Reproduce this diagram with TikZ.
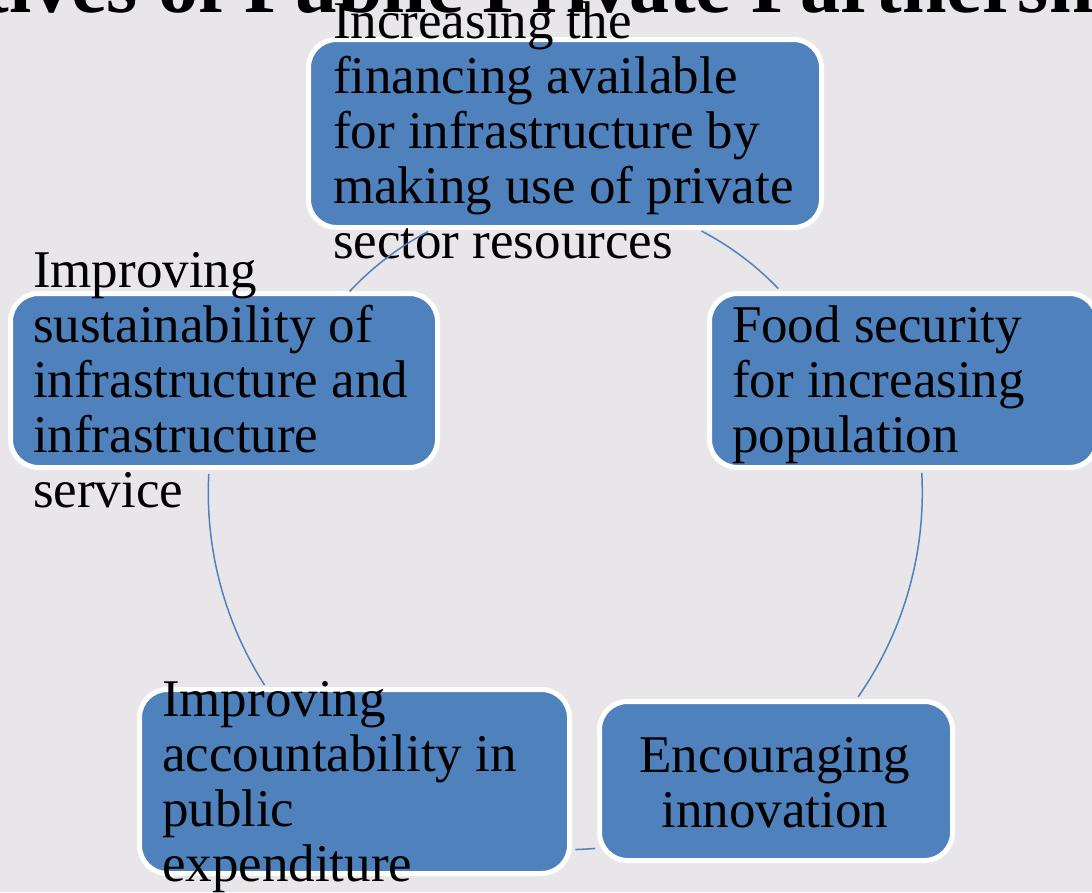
\documentclass[tikz,border=0pt]{standalone}
\usepackage{fontspec}
\usepackage{graphicx}
\setmainfont{Liberation Serif}
\definecolor{pagebg}{HTML}{E8E6E9}
\definecolor{boxblue}{HTML}{4F81BD}
\begin{document}
\begin{tikzpicture}[x=1pt,y=-1pt,
  stagebox/.style={draw=white,line width=5pt,fill=boxblue,rounded corners=28pt,inner sep=0pt,outer sep=0pt},
  stagetext/.style={anchor=base west,inner sep=0pt,outer sep=0pt,text=black,font=\fontsize{53}{55}\selectfont},
  ring/.style={draw=boxblue,line width=1.5pt}]
\useasboundingbox[fill=pagebg] (0,0) rectangle (1092,892);
\node[anchor=base west,inner sep=0pt,font=\bfseries\fontsize{80}{80}\selectfont] (title) at (-222,12) {Objectives of Public Private Partnership};
% boxes
\node[stagebox,minimum width=513pt,minimum height=188pt] (b1) at (565,133.5) {};
\node[stagebox,minimum width=388pt,minimum height=174pt] (b2) at (903.5,380.5) {};
\node[stagebox,minimum width=427pt,minimum height=174pt] (b3) at (224,380.5) {};
\node[stagebox,minimum width=430pt,minimum height=184pt] (b4) at (354.5,781.5) {};
\node[stagebox,minimum width=353pt,minimum height=159pt] (b5) at (776,781) {};
% texts
\node[stagetext] (t1) at (333,38) {\parbox[t]{520pt}{\raggedright Increasing the\\financing available\\for infrastructure by\\making use of private\\sector resources}};
\node[stagetext] (t2) at (732,342) {\parbox[t]{380pt}{\raggedright Food security\\for increasing\\population}};
\node[stagetext] (t3) at (33,287) {\parbox[t]{420pt}{\raggedright Improving\\sustainability of\\infrastructure and\\infrastructure\\service}};
\node[stagetext] (t4) at (162,716) {\parbox[t]{420pt}{\raggedright Improving\\accountability in\\public\\expenditure}};
\node[stagetext,anchor=base] (t5) at (775,772) {\parbox[t]{320pt}{\centering Encouraging\\innovation}};
% connectors on the cycle
\coordinate (c) at (565.3,492.7);
\draw[ring] (c) ++(-62.5:295) arc[start angle=-62.5,end angle=-43.8,radius=295];
\draw[ring] (c) ++(-3.2:357) arc[start angle=-3.2,end angle=34.9,radius=357];
\draw[ring] (c) ++(85.2:357) arc[start angle=85.2,end angle=88.4,radius=357];
\draw[ring] (c) ++(147.4:357) arc[start angle=147.4,end angle=183,radius=357];
\draw[ring] (c) ++(223:295) arc[start angle=223,end angle=242.3,radius=295];
\end{tikzpicture}
\end{document}
